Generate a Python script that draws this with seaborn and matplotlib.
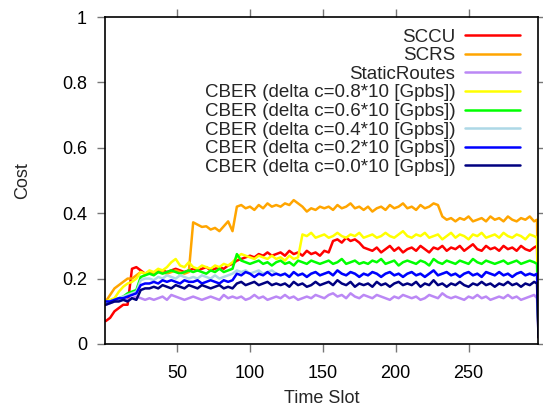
import matplotlib
matplotlib.use("Agg")
import matplotlib.pyplot as plt
import seaborn as sns
import pandas as pd

time_slots = list(range(1, 296, 3)) + [297, 298]

sccu = [0.07, 0.08, 0.10, 0.11, 0.12, 0.12, 0.23, 0.235, 0.225, 0.215,
        0.22, 0.215, 0.22, 0.225, 0.22, 0.225, 0.23, 0.225, 0.22, 0.225,
        0.23, 0.225, 0.23, 0.235, 0.225, 0.23, 0.235, 0.23, 0.24, 0.245,
        0.255, 0.26, 0.265, 0.27, 0.265, 0.275, 0.27, 0.28, 0.27, 0.275,
        0.28, 0.27, 0.285, 0.275, 0.28, 0.27, 0.285, 0.275, 0.28, 0.27,
        0.285, 0.28, 0.315, 0.32, 0.31, 0.325, 0.315, 0.32, 0.31, 0.295,
        0.29, 0.285, 0.295, 0.28, 0.29, 0.30, 0.285, 0.295, 0.28, 0.29,
        0.295, 0.285, 0.30, 0.29, 0.28, 0.295, 0.29, 0.30, 0.285, 0.295,
        0.29, 0.30, 0.285, 0.295, 0.305, 0.29, 0.285, 0.30, 0.29, 0.295,
        0.285, 0.30, 0.29, 0.295, 0.285, 0.30, 0.29, 0.285, 0.295, 0.30,
        0.02]

scrs = [0.13, 0.15, 0.17, 0.18, 0.19, 0.20, 0.20, 0.21, 0.22, 0.215,
        0.22, 0.215, 0.225, 0.22, 0.215, 0.22, 0.225, 0.22, 0.215, 0.22,
        0.372, 0.365, 0.358, 0.36, 0.35, 0.355, 0.345, 0.36, 0.375, 0.345,
        0.42, 0.425, 0.415, 0.42, 0.41, 0.425, 0.415, 0.43, 0.42, 0.425,
        0.42, 0.43, 0.425, 0.44, 0.43, 0.42, 0.405, 0.415, 0.41, 0.42,
        0.415, 0.42, 0.41, 0.425, 0.415, 0.42, 0.43, 0.415, 0.42, 0.41,
        0.42, 0.405, 0.415, 0.42, 0.41, 0.425, 0.415, 0.42, 0.43, 0.415,
        0.42, 0.41, 0.425, 0.415, 0.42, 0.43, 0.425, 0.39, 0.38, 0.385,
        0.375, 0.385, 0.38, 0.39, 0.375, 0.38, 0.385, 0.375, 0.39, 0.38,
        0.385, 0.375, 0.39, 0.38, 0.375, 0.385, 0.38, 0.39, 0.375, 0.38,
        0.03]

static_routes = [0.12, 0.125, 0.13, 0.135, 0.14, 0.135, 0.14, 0.145, 0.14, 0.135,
                 0.14, 0.135, 0.14, 0.145, 0.135, 0.15, 0.145, 0.14, 0.135, 0.14,
                 0.145, 0.14, 0.135, 0.14, 0.145, 0.14, 0.135, 0.15, 0.14, 0.145,
                 0.14, 0.145, 0.135, 0.14, 0.15, 0.14, 0.145, 0.135, 0.14, 0.145,
                 0.14, 0.15, 0.14, 0.145, 0.135, 0.14, 0.145, 0.14, 0.15, 0.145,
                 0.14, 0.15, 0.155, 0.145, 0.15, 0.14, 0.155, 0.145, 0.14, 0.15,
                 0.145, 0.14, 0.15, 0.145, 0.14, 0.135, 0.145, 0.14, 0.15, 0.145,
                 0.14, 0.145, 0.135, 0.14, 0.15, 0.145, 0.14, 0.155, 0.145, 0.14,
                 0.145, 0.14, 0.135, 0.145, 0.14, 0.15, 0.14, 0.145, 0.135, 0.14,
                 0.145, 0.14, 0.15, 0.14, 0.145, 0.135, 0.14, 0.145, 0.15, 0.14,
                 0.03]

cber_08 = [0.13, 0.135, 0.14, 0.16, 0.175, 0.185, 0.19, 0.20, 0.22, 0.215,
           0.225, 0.22, 0.23, 0.225, 0.235, 0.25, 0.26, 0.24, 0.235, 0.25,
           0.235, 0.23, 0.24, 0.235, 0.23, 0.24, 0.235, 0.245, 0.24, 0.25,
           0.265, 0.275, 0.27, 0.265, 0.26, 0.27, 0.265, 0.26, 0.27, 0.26,
           0.265, 0.255, 0.27, 0.26, 0.265, 0.335, 0.33, 0.34, 0.325, 0.33,
           0.335, 0.325, 0.33, 0.34, 0.33, 0.325, 0.335, 0.33, 0.34, 0.325,
           0.33, 0.335, 0.325, 0.33, 0.34, 0.33, 0.325, 0.335, 0.345, 0.33,
           0.325, 0.335, 0.33, 0.34, 0.325, 0.33, 0.335, 0.32, 0.33, 0.34,
           0.325, 0.335, 0.33, 0.32, 0.335, 0.33, 0.34, 0.325, 0.33, 0.335,
           0.325, 0.34, 0.33, 0.325, 0.335, 0.33, 0.32, 0.335, 0.33, 0.325,
           0.03]

cber_06 = [0.13, 0.13, 0.135, 0.14, 0.145, 0.155, 0.16, 0.165, 0.205, 0.21,
           0.215, 0.21, 0.22, 0.215, 0.22, 0.225, 0.22, 0.215, 0.22, 0.225,
           0.22, 0.225, 0.22, 0.215, 0.225, 0.22, 0.23, 0.22, 0.225, 0.23,
           0.275, 0.255, 0.25, 0.245, 0.25, 0.255, 0.245, 0.25, 0.24, 0.25,
           0.255, 0.245, 0.25, 0.24, 0.255, 0.25, 0.245, 0.255, 0.25, 0.245,
           0.25, 0.255, 0.245, 0.25, 0.26, 0.245, 0.25, 0.255, 0.245, 0.25,
           0.245, 0.255, 0.25, 0.26, 0.245, 0.25, 0.255, 0.24, 0.25, 0.255,
           0.25, 0.245, 0.255, 0.25, 0.24, 0.26, 0.25, 0.245, 0.255, 0.25,
           0.245, 0.255, 0.25, 0.245, 0.26, 0.25, 0.245, 0.255, 0.25, 0.245,
           0.25, 0.255, 0.245, 0.25, 0.255, 0.245, 0.25, 0.255, 0.25, 0.245,
           0.03]

cber_04 = [0.13, 0.13, 0.135, 0.14, 0.145, 0.15, 0.155, 0.16, 0.195, 0.20,
           0.20, 0.195, 0.205, 0.20, 0.21, 0.205, 0.20, 0.21, 0.205, 0.20,
           0.205, 0.20, 0.21, 0.205, 0.20, 0.21, 0.20, 0.205, 0.21, 0.215,
           0.225, 0.22, 0.225, 0.215, 0.22, 0.225, 0.215, 0.22, 0.225, 0.215,
           0.21, 0.215, 0.207, 0.22, 0.21, 0.215, 0.207, 0.215, 0.22, 0.21,
           0.215, 0.22, 0.21, 0.225, 0.215, 0.21, 0.22, 0.215, 0.207, 0.215,
           0.21, 0.22, 0.215, 0.207, 0.215, 0.22, 0.21, 0.215, 0.207, 0.215,
           0.22, 0.21, 0.215, 0.207, 0.215, 0.225, 0.21, 0.215, 0.22, 0.21,
           0.215, 0.207, 0.215, 0.22, 0.21, 0.215, 0.207, 0.22, 0.215, 0.21,
           0.22, 0.21, 0.215, 0.207, 0.215, 0.22, 0.21, 0.215, 0.21, 0.215,
           0.03]

cber_02 = [0.13, 0.13, 0.135, 0.14, 0.14, 0.145, 0.15, 0.155, 0.18, 0.185,
           0.185, 0.19, 0.185, 0.195, 0.19, 0.195, 0.19, 0.185, 0.195, 0.19,
           0.19, 0.195, 0.185, 0.19, 0.195, 0.19, 0.185, 0.195, 0.19, 0.195,
           0.215, 0.21, 0.22, 0.215, 0.205, 0.215, 0.21, 0.22, 0.21, 0.215,
           0.21, 0.215, 0.205, 0.22, 0.21, 0.215, 0.205, 0.215, 0.22, 0.21,
           0.215, 0.22, 0.21, 0.225, 0.215, 0.21, 0.22, 0.215, 0.205, 0.215,
           0.21, 0.22, 0.215, 0.205, 0.215, 0.22, 0.21, 0.215, 0.205, 0.215,
           0.22, 0.21, 0.215, 0.205, 0.215, 0.225, 0.21, 0.215, 0.22, 0.21,
           0.215, 0.205, 0.215, 0.22, 0.21, 0.215, 0.205, 0.22, 0.215, 0.21,
           0.22, 0.21, 0.215, 0.205, 0.215, 0.22, 0.21, 0.215, 0.21, 0.215,
           0.03]

cber_00 = [0.12, 0.125, 0.13, 0.13, 0.135, 0.13, 0.14, 0.135, 0.165, 0.17,
           0.17, 0.175, 0.17, 0.18, 0.175, 0.17, 0.18, 0.175, 0.17, 0.18,
           0.175, 0.17, 0.18, 0.175, 0.17, 0.175, 0.18, 0.17, 0.175, 0.17,
           0.185, 0.19, 0.18, 0.185, 0.19, 0.18, 0.185, 0.19, 0.18, 0.185,
           0.18, 0.185, 0.175, 0.19, 0.18, 0.185, 0.175, 0.18, 0.19, 0.18,
           0.185, 0.19, 0.18, 0.195, 0.185, 0.18, 0.19, 0.175, 0.185, 0.18,
           0.185, 0.175, 0.19, 0.18, 0.185, 0.175, 0.185, 0.19, 0.18, 0.185,
           0.18, 0.19, 0.175, 0.185, 0.18, 0.195, 0.18, 0.185, 0.175, 0.185,
           0.18, 0.19, 0.18, 0.175, 0.185, 0.18, 0.19, 0.18, 0.185, 0.175,
           0.185, 0.18, 0.19, 0.18, 0.185, 0.175, 0.185, 0.18, 0.19, 0.185,
           0.02]

series_names = ["SCCU", "SCRS", "StaticRoutes",
                "CBER (delta c=0.8*10 [Gpbs])",
                "CBER (delta c=0.6*10 [Gpbs])",
                "CBER (delta c=0.4*10 [Gpbs])",
                "CBER (delta c=0.2*10 [Gpbs])",
                "CBER (delta c=0.0*10 [Gpbs])"]
series_values = [sccu, scrs, static_routes, cber_08, cber_06, cber_04, cber_02, cber_00]
colors = ["#ff0000", "#ffa500", "#bb88f5", "#ffff00", "#00ff00",
          "#add8e6", "#0000ff", "#000080"]

x_ticks = [50, 100, 150, 200, 250]
y_ticks = [0, 0.2, 0.4, 0.6, 0.8, 1]
y_tick_labels = ["0", "0.2", "0.4", "0.6", "0.8", "1"]

frames = []
for name, vals in zip(series_names, series_values):
    frames.append(pd.DataFrame({"Time Slot": time_slots, "Cost": vals, "series": name}))
df = pd.concat(frames, ignore_index=True)

sns.set_style("ticks")
plt.rcParams["font.family"] = ["Liberation Sans", "DejaVu Sans"]

fig = plt.figure(figsize=(5.43, 4.08), dpi=100)
ax = fig.add_axes([0.1934, 0.1569, 0.7983, 0.8014])

sns.lineplot(data=df, x="Time Slot", y="Cost", hue="series", hue_order=series_names,
             palette=colors, estimator=None, sort=False, linewidth=1.8, ax=ax)

ax.set_xlim(0.5, 298)
ax.set_ylim(0, 1)
ax.set_xticks(x_ticks)
ax.set_yticks(y_ticks)
ax.set_yticklabels(y_tick_labels)
for side in ["top", "right", "left", "bottom"]:
    ax.spines[side].set_visible(True)
    ax.spines[side].set_color("black")
    ax.spines[side].set_linewidth(1.2)
ax.tick_params(axis="both", which="both", direction="out", length=6, width=1,
               color="#777777", labelsize=13, labelcolor="black",
               top=True, right=True, labeltop=False, labelright=False)
ax.tick_params(axis="x", pad=9)
ax.tick_params(axis="y", pad=7)
ax.set_xlabel("Time Slot", fontsize=13, labelpad=6)
ax.set_ylabel("Cost", fontsize=13, labelpad=22)

handles, labels = ax.get_legend_handles_labels()
leg = ax.legend(handles, labels, loc="upper right", bbox_to_anchor=(0.957, 0.965),
                frameon=False, markerfirst=False, fontsize=13.5, handlelength=2.9,
                handletextpad=0.55, labelspacing=0.08, borderaxespad=0.0, borderpad=0.0)
for h in leg.get_lines():
    h.set_linewidth(1.8)
try:
    for col in leg._legend_box.get_children()[1].get_children():
        col.align = "right"
except Exception:
    pass

fig.savefig("out.png", dpi=100)
